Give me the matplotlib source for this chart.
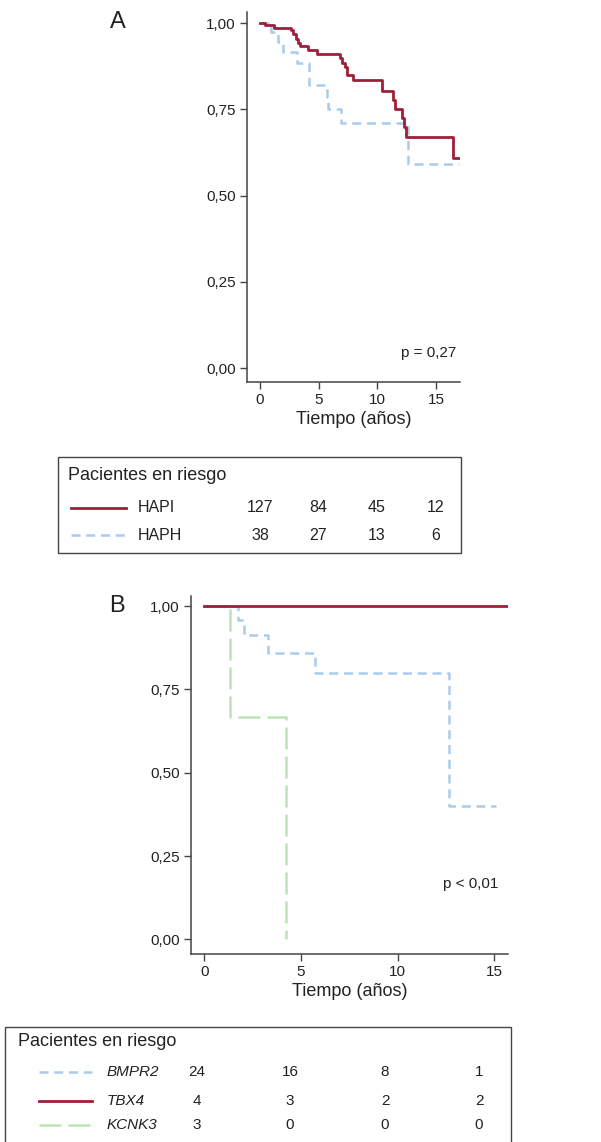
import matplotlib
matplotlib.use('Agg')
import matplotlib.pyplot as plt
from matplotlib.lines import Line2D
from matplotlib.patches import Rectangle

plt.rcParams['font.family'] = ['Liberation Sans', 'DejaVu Sans']

# Panel A: HAPI vs HAPH (tiempos de evento y supervivencia)
hapi_t = [0, 0.43, 1.22, 2.62, 2.84, 3.04, 3.21, 3.41, 4.12, 4.88, 6.82, 7.02,
          7.25, 7.44, 7.95, 10.37, 11.31, 11.48, 12.08, 12.28, 12.45, 16.48, 17.0]
hapi_s = [1.0, 0.994, 0.986, 0.979, 0.968, 0.954, 0.942, 0.934, 0.921, 0.911, 0.899, 0.884,
          0.872, 0.850, 0.834, 0.802, 0.776, 0.751, 0.725, 0.700, 0.671, 0.610, 0.610]
haph_t = [0, 0.91, 1.56, 1.94, 3.18, 4.20, 5.69, 5.82, 6.88, 12.64, 17.0]
haph_s = [1.0, 0.974, 0.945, 0.916, 0.884, 0.821, 0.786, 0.751, 0.710, 0.592, 0.592]

# Panel B: genes
bmpr2_t = [0, 1.76, 2.07, 3.28, 5.73, 12.68, 15.1]
bmpr2_s = [1.0, 0.958, 0.912, 0.858, 0.798, 0.400, 0.400]
tbx4_t = [0, 15.7]
tbx4_s = [1.0, 1.0]
kcnk3_t = [0, 1.33, 4.23]
kcnk3_s = [1.0, 0.667, 0.0]

# pacientes en riesgo
riesgo_a = {'HAPI': [127, 84, 45, 12], 'HAPH': [38, 27, 13, 6]}
riesgo_b = {'BMPR2': [24, 16, 8, 1], 'TBX4': [4, 3, 2, 2], 'KCNK3': [3, 0, 0, 0]}

x_ticks = [0, 5, 10, 15]
y_ticks = [0, 0.25, 0.5, 0.75, 1.0]
y_labels = ['0,00', '0,25', '0,50', '0,75', '1,00']

red = '#A01E38'
blue = '#A9CCEC'
green = '#BFE2B8'
txt = '#222222'
spine = '#444444'

sty = {
    'HAPI': dict(color=red, lw=2.0, ls='-'),
    'HAPH': dict(color=blue, lw=1.8, ls=(0, (3.6, 2.3))),
    'TBX4': dict(color=red, lw=2.0, ls='-'),
    'BMPR2': dict(color=blue, lw=1.8, ls=(0, (3.6, 2.3))),
    'KCNK3': dict(color=green, lw=1.8, ls=(0, (8.8, 2.8))),
}

W, H = 601, 1142
fig = plt.figure(figsize=(W / 100, H / 100), dpi=100)

# overlay in pixel coords for tables and letters
ov = fig.add_axes([0, 0, 1, 1])
ov.set_xlim(0, W)
ov.set_ylim(H, 0)
ov.axis('off')


def style_axes(ax, xlim, ylim):
    ax.set_xlim(*xlim)
    ax.set_ylim(*ylim)
    for s in ['top', 'right']:
        ax.spines[s].set_visible(False)
    for s in ['left', 'bottom']:
        ax.spines[s].set_color(spine)
        ax.spines[s].set_linewidth(1.1)
    ax.set_xticks(x_ticks)
    ax.set_yticks(y_ticks)
    ax.set_yticklabels(y_labels)
    ax.tick_params(direction='out', length=5, width=1.0, color=spine,
                   labelsize=11, labelcolor=txt, pad=3)
    ax.set_xlabel('Tiempo (años)', fontsize=13, color=txt, labelpad=3)
    ax.patch.set_alpha(0)


def pix_axes(l, r, t, b):
    return fig.add_axes([l / W, 1 - b / H, (r - l) / W, (b - t) / H])


# ---- Panel A
axA = pix_axes(246.7, 460, 12, 381.7)
style_axes(axA, (-1.13, 17.05), (-0.039, 1.032))
axA.step(haph_t, haph_s, where='post', dash_capstyle='butt', **sty['HAPH'])
axA.step(hapi_t, hapi_s, where='post', **sty['HAPI'])
axA.text(16.7, 0.045, 'p = 0,27', ha='right', va='center', fontsize=11, color=txt)
ov.text(118, 22, 'A', fontsize=17, ha='center', va='center', color=txt)

# ---- Panel B
axB = pix_axes(190.7, 508.3, 596, 954)
style_axes(axB, (-0.7, 15.73), (-0.044, 1.03))
axB.step(kcnk3_t, kcnk3_s, where='post', dash_capstyle='butt', **sty['KCNK3'])
axB.step(bmpr2_t, bmpr2_s, where='post', dash_capstyle='butt', **sty['BMPR2'])
axB.step(tbx4_t, tbx4_s, where='post', **sty['TBX4'])
axB.text(15.2, 0.165, 'p < 0,01', ha='right', va='center', fontsize=11, color=txt)
ov.text(117, 606, 'B', fontsize=17, ha='center', va='center', color=txt)


# ---- tablas de pacientes en riesgo
def table(box, title_xy, rows, line_x, label_x, num_x, row_y, italic):
    l, t, r, b = box
    ov.add_patch(Rectangle((l, t), r - l, b - t, fill=False, ec=spine, lw=1.0, clip_on=False))
    ov.text(title_xy[0], title_xy[1], 'Pacientes en riesgo', fontsize=13, color=txt,
            ha='left', va='center')
    for (name, vals), y in zip(rows.items(), row_y):
        ov.add_line(Line2D(line_x, [y, y], dash_capstyle='butt', **sty[name]))
        ov.text(label_x, y, name, fontsize=11.5 if not italic else 11, color=txt,
                ha='left', va='center', style='italic' if italic else 'normal')
        for x, v in zip(num_x, vals):
            ov.text(x, y, str(v), fontsize=11.5 if not italic else 11, color=txt,
                    ha='center', va='center')


table((58, 457, 461, 553), (68, 475), riesgo_a, [71, 126], 138,
      [260, 318.5, 377, 435.5], [508, 535], False)
table((5, 1027, 511, 1150), (18, 1042), riesgo_b, [39, 92], 107,
      [197, 290, 385, 479], [1072, 1101, 1125], True)

fig.savefig('out.png', dpi=100)
